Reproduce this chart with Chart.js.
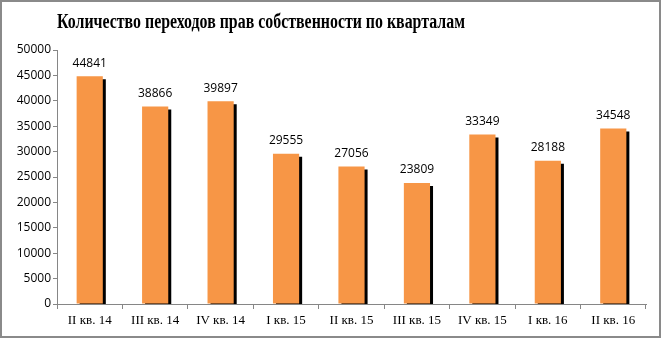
<!DOCTYPE html>
<html>
<head>
<meta charset="utf-8">
<script src="https://cdn.jsdelivr.net/npm/chart.js@4"></script>
<style>
  body { margin: 0; background: #fff; }
  #wrap { width: 661px; height: 338px; position: relative; }
</style>
</head>
<body>
<div id="wrap"><canvas id="myChart" width="661" height="338"></canvas></div>
<script>
var ctx = document.getElementById('myChart').getContext('2d');

// quarters and number of ownership transfers
let quarters = ['II кв. 14', 'III кв. 14', 'IV кв. 14', 'I кв. 15', 'II кв. 15', 'III кв. 15', 'IV кв. 15', 'I кв. 16', 'II кв. 16'];
let transfers = [44841, 38866, 39897, 29555, 27056, 23809, 33349, 28188, 34548];
let chartTitle = 'Количество переходов прав собственности по кварталам';

let axisGray = '#868686';

// frame + title, drawn by hand so the title can be squeezed a bit
let frame = {
    id: 'frame',
    beforeDraw(chart) {
        let c = chart.ctx;
        c.save();
        c.fillStyle = '#fff';
        c.fillRect(0, 0, chart.width, chart.height);
        c.strokeStyle = '#8a8a8a';
        c.lineWidth = 2;
        c.strokeRect(1, 1, chart.width - 2, chart.height - 2);
        c.restore();
    },
    afterDraw(chart) {
        let c = chart.ctx;
        c.save();
        c.font = 'bold 20px "Liberation Serif"';
        c.fillStyle = '#000';
        c.textAlign = 'center';
        c.textBaseline = 'alphabetic';
        c.fillText(chartTitle, 261, 28, 408);
        c.restore();
    }
};

// black drop shadow under every bar
let barShadow = {
    id: 'barShadow',
    beforeDatasetsDraw(chart) {
        let c = chart.ctx;
        c.save();
        c.shadowColor = '#000';
        c.shadowOffsetX = 3;
        c.shadowOffsetY = 3;
        c.shadowBlur = 0;
    },
    afterDatasetsDraw(chart) {
        chart.ctx.restore();
    }
};

// value on top of each bar
let valueLabels = {
    id: 'valueLabels',
    afterDatasetsDraw(chart) {
        let c = chart.ctx;
        let meta = chart.getDatasetMeta(0);
        c.save();
        c.font = '12px "Open Sans"';
        c.fillStyle = '#000';
        c.textAlign = 'center';
        c.textBaseline = 'bottom';
        meta.data.forEach((bar, i) => {
            c.fillText(String(chart.data.datasets[0].data[i]), bar.x, bar.y - 7);
        });
        c.restore();
    }
};

myChart = new Chart(ctx, {
    type: 'bar',
    data: {
        labels: quarters,
        datasets: [{
            label: 'переходы',
            data: transfers,
            backgroundColor: '#F79646',
            borderWidth: 0,
            barPercentage: 0.4,
            categoryPercentage: 1
        }]
    },
    options: {
        responsive: false,
        animation: false,
        layout: { padding: { top: 50, right: 15, left: 0, bottom: 0 } },
        plugins: {
            legend: { display: false },
            title: { display: false },
            tooltip: { enabled: false }
        },
        scales: {
            x: {
                grid: {
                    drawOnChartArea: false,
                    drawTicks: true,
                    tickLength: 5,
                    tickColor: axisGray,
                    offset: true
                },
                border: { color: axisGray },
                ticks: {
                    color: '#000',
                    padding: 4,
                    maxRotation: 0,
                    font: { family: '"Liberation Serif"', size: 13 }
                },
                afterFit(scale) { scale.height = 34; }
            },
            y: {
                min: 0,
                max: 50000,
                grid: {
                    drawOnChartArea: false,
                    drawTicks: true,
                    tickLength: 4,
                    tickColor: axisGray
                },
                border: { color: axisGray },
                ticks: {
                    stepSize: 5000,
                    color: '#000',
                    padding: 2,
                    font: { family: '"Open Sans"', size: 12 },
                    callback: v => String(v)
                },
                afterFit(scale) { scale.width = 57; }
            }
        }
    },
    plugins: [frame, barShadow, valueLabels]
});
</script>
</body>
</html>
